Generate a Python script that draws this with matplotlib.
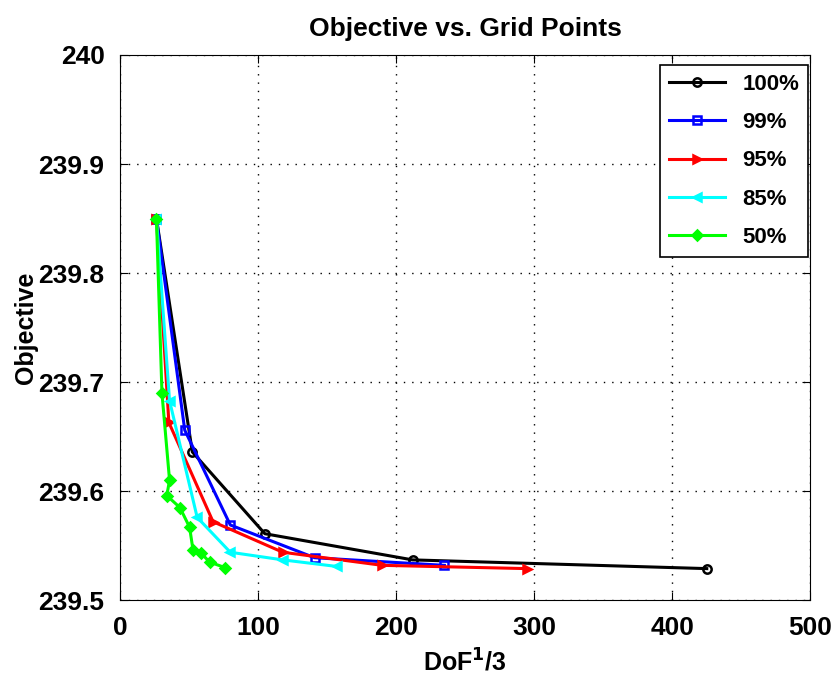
import matplotlib
matplotlib.use("Agg")
import matplotlib.pyplot as plt

plt.rcParams["font.family"] = ["Liberation Sans", "DejaVu Sans"]
plt.rcParams["font.weight"] = "bold"

labels = ["100%", "99%", "95%", "85%", "50%"]
colors = ["black", "blue", "red", "cyan", "lime"]
markers = ["o", "s", ">", "<", "D"]

x_100 = [26.5, 52.5, 105, 212, 425]
y_100 = [239.85, 239.636, 239.561, 239.537, 239.529]

x_99 = [26.5, 47, 80, 141, 235]
y_99 = [239.85, 239.656, 239.569, 239.539, 239.532]

x_95 = [26.5, 35.5, 67.5, 118, 190, 295]
y_95 = [239.85, 239.663, 239.572, 239.544, 239.532, 239.529]

x_85 = [26.5, 36, 56, 80, 118, 157]
y_85 = [239.85, 239.683, 239.576, 239.544, 239.537, 239.531]

x_50 = [26.5, 30.5, 36, 34, 43.5, 50.5, 53, 59, 65, 76]
y_50 = [239.85, 239.690, 239.610, 239.596, 239.585, 239.567, 239.546, 239.543, 239.535, 239.530]

series = [(x_100, y_100), (x_99, y_99), (x_95, y_95), (x_85, y_85), (x_50, y_50)]

fig = plt.figure(figsize=(8.38, 6.79), dpi=100)
ax = fig.add_axes([0.143, 0.116, 0.824, 0.803])

for (xs, ys), lab, c, m in zip(series, labels, colors, markers):
    ms = 5 if m == "D" else 6
    ax.plot(xs, ys, color=c, marker=m, markersize=ms, markerfacecolor="none" if m in "os" else c,
            markeredgewidth=1.8, linewidth=2.2, label=lab)

ax.set_xlim(0, 500)
ax.set_ylim(239.5, 240)
ax.set_xticks([0, 100, 200, 300, 400, 500])
ax.set_yticks([239.5, 239.6, 239.7, 239.8, 239.9, 240])
ax.set_yticklabels(["239.5", "239.6", "239.7", "239.8", "239.9", "240"])
ax.tick_params(direction="in", labelsize=19, length=6, top=True, right=True, pad=11)
for lbl in ax.get_xticklabels() + ax.get_yticklabels():
    lbl.set_fontweight("bold")
ax.grid(True, linestyle=(0, (1, 5)), color="black", linewidth=1)

ax.set_title("Objective vs. Grid Points", fontsize=19, fontweight="bold", pad=14)
ax.set_xlabel("DoF$^\\mathbf{1}$/3", fontsize=18, fontweight="bold")
ax.xaxis.set_label_coords(0.5, -0.09)
ax.set_ylabel("Objective", fontsize=18, fontweight="bold")
ax.yaxis.set_label_coords(-0.118, 0.5)

leg = ax.legend(loc="upper right", bbox_to_anchor=(0.997, 0.982), borderaxespad=0,
                fontsize=16, fancybox=False, framealpha=1, edgecolor="black",
                handlelength=2.5, labelspacing=0.78)
leg.get_frame().set_linewidth(1.2)

fig.savefig("out.png", dpi=100)
